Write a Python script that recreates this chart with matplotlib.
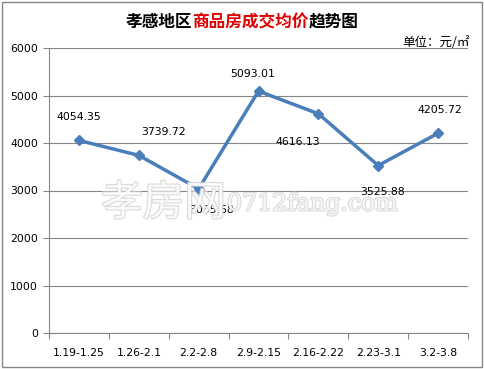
import matplotlib.pyplot as plt
from matplotlib.patches import Rectangle
import matplotlib.patheffects as pe

plt.rcParams['font.family'] = ['DejaVu Sans', 'Noto Sans CJK SC']

weeks = ['1.19-1.25', '1.26-2.1', '2.2-2.8', '2.9-2.15', '2.16-2.22', '2.23-3.1', '3.2-3.8']
prices = [4054.35, 3739.72, 3035.68, 5093.01, 4616.13, 3525.88, 4205.72]
# label offsets in points (dx, dy)
offsets = [(0, 17), (18, 17), (9, -15), (-4, 12), (-15, -20), (3, -19), (1, 17)]

fig = plt.figure(figsize=(4.84, 3.69), dpi=100)
ax = fig.add_axes([49 / 484, 1 - 333 / 369, 419 / 484, 285 / 369])

x = [i + 0.5 for i in range(len(weeks))]
ax.plot(x, prices, color='#4a7ebb', lw=2.5, marker='D', ms=5.5, zorder=3)
for xi, v, (dx, dy) in zip(x, prices, offsets):
    ax.annotate(f'{v:.2f}', (xi, v), xytext=(dx, dy), textcoords='offset points',
                ha='center', va='center', fontsize=7.8, zorder=4)

ax.set_xlim(0, len(weeks))
ax.set_ylim(0, 6000)
ax.set_yticks(range(0, 6001, 1000))
ax.set_xticks(range(len(weeks) + 1))
ax.set_xticklabels([])
ax.set_xticks(x, minor=True)
ax.set_xticklabels(weeks, minor=True, fontsize=7.8)
ax.tick_params(axis='x', which='minor', length=0, pad=11)
ax.tick_params(axis='x', which='major', length=4, direction='out', color='#868686')
ax.tick_params(axis='y', length=4, direction='out', color='#868686', labelsize=7.8, pad=4)
ax.grid(axis='y', color='#868686', lw=0.8)
ax.set_axisbelow(True)
for s in ['top', 'right']:
    ax.spines[s].set_visible(False)
for s in ['left', 'bottom']:
    ax.spines[s].set_color('#868686')

# watermark, semi-transparent on top of the plot
wm = [pe.withStroke(linewidth=1.5, foreground='#cfcfcf')]
ax.text(0.124, 0.453, '孝房网', fontsize=30, color='white', family='Noto Sans CJK SC',
        path_effects=wm, va='center', transform=ax.transAxes, alpha=0.75, zorder=5)
ax.text(0.425, 0.453, '0712fang.com', fontsize=17, color='white', family='DejaVu Serif',
        path_effects=wm, va='center', transform=ax.transAxes, alpha=0.75, zorder=5)

# title in pieces
parts = [('孝感地区', 'black'), ('商品房成交均价', '#e00000'), ('趋势图', 'black')]
renderer = fig.canvas.get_renderer()
texts = []
for s, c in parts:
    t = fig.text(0, 1 - 22 / 369, s, fontsize=12, fontweight='bold', color=c,
                 family='Noto Sans CJK SC', va='center')
    texts.append(t)
widths = [t.get_window_extent(renderer).width for t in texts]
xpos = (484 - sum(widths)) / 2
for t, w in zip(texts, widths):
    t.set_x(xpos / 484)
    xpos += w

fig.text(470 / 484, 1 - 42 / 369, '单位：元/㎡', fontsize=9, ha='right', va='center',
         family=['Noto Sans CJK SC', 'DejaVu Sans'])

fig.patches.append(Rectangle((2 / 484, 2 / 369), 480 / 484, 365 / 369, transform=fig.transFigure,
                             fill=False, edgecolor='#868686', lw=1))

fig.savefig('out.png', dpi=100)
